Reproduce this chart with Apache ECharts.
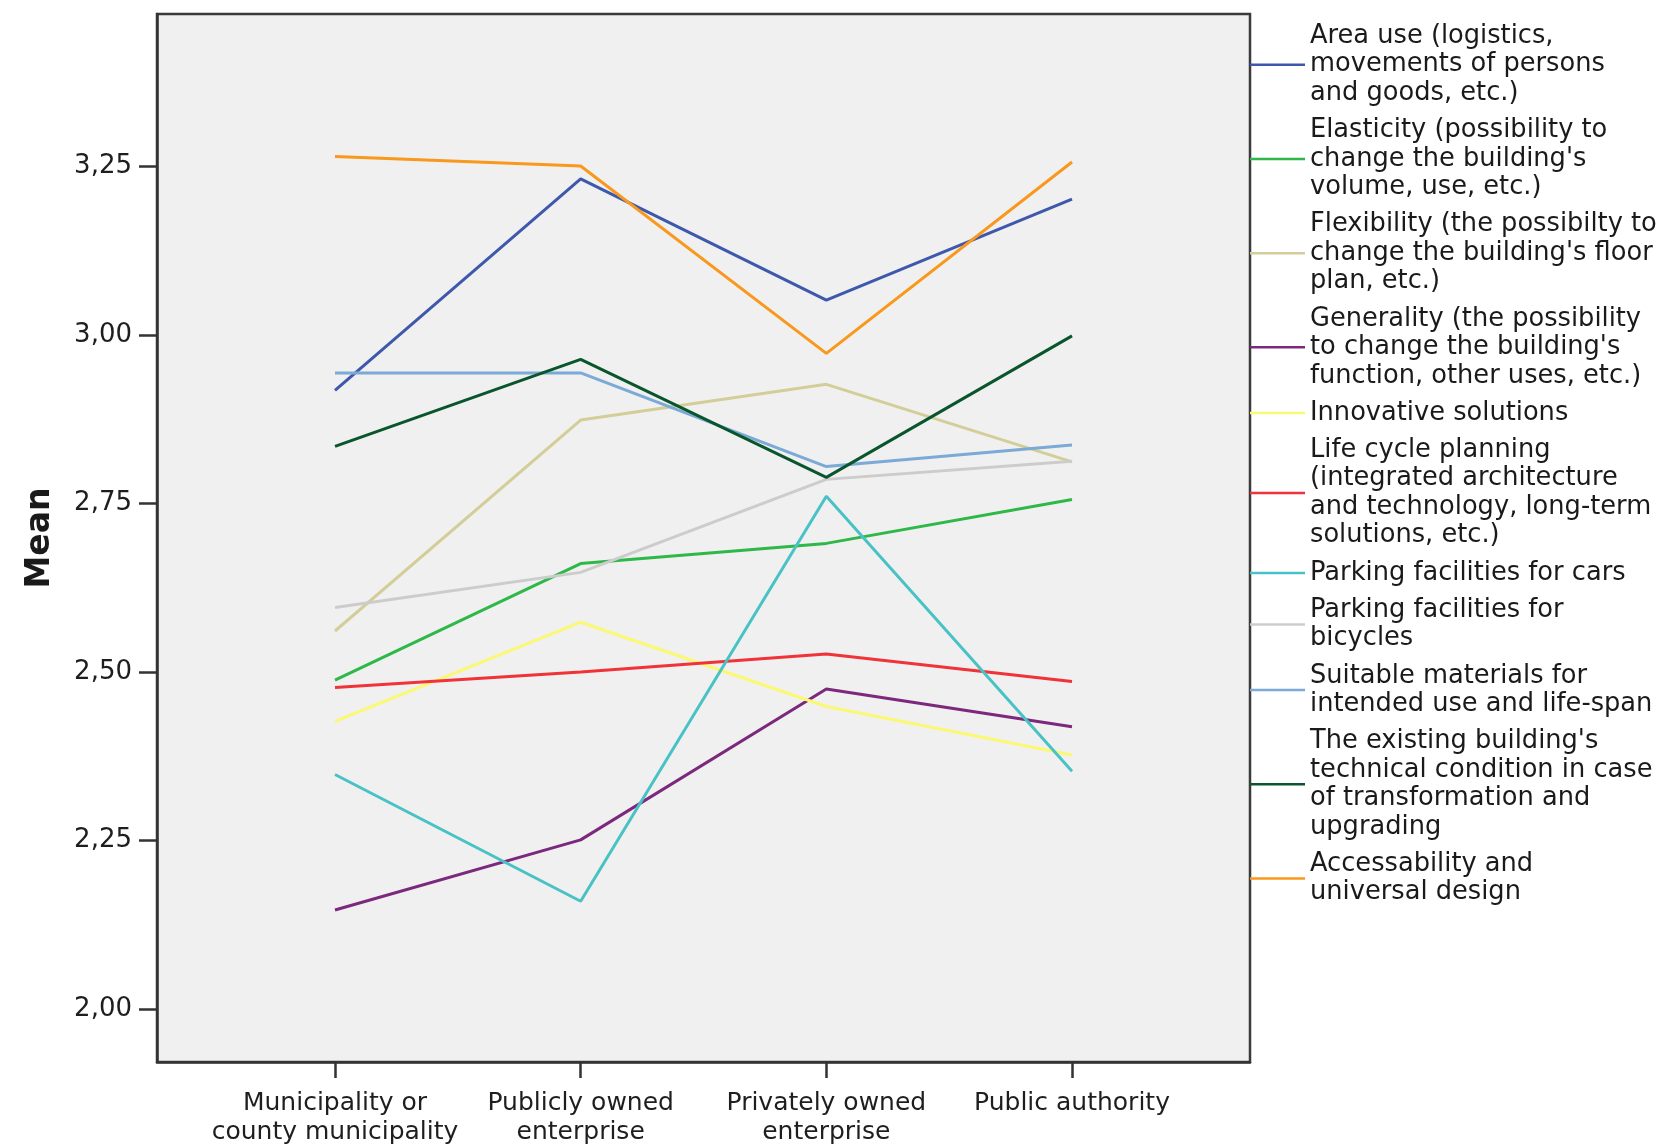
<!DOCTYPE html>
<html>
<head>
<meta charset="utf-8">
<script src="https://cdn.jsdelivr.net/npm/echarts@6/dist/echarts.min.js"></script>
<style>
  html, body { margin: 0; padding: 0; background: #ffffff; }
  #chart { width: 1663px; height: 1146px; }
</style>
</head>
<body>
<div id="chart"></div>
<script>
// ---- data ----
const categories = [
  'Municipality or\ncounty municipality',
  'Publicly owned\nenterprise',
  'Privately owned\nenterprise',
  'Public authority'
];
const yTickValues = [2.00, 2.25, 2.50, 2.75, 3.00, 3.25];
const yTickLabels = ['2,00', '2,25', '2,50', '2,75', '3,00', '3,25'];
const yAxisTitle = 'Mean';

const seriesNames = [
  'Area use (logistics,\nmovements of persons\nand goods, etc.)',
  'Elasticity (possibility to\nchange the building\'s\nvolume, use, etc.)',
  'Flexibility (the possibilty to\nchange the building\'s floor\nplan, etc.)',
  'Generality (the possibility\nto change the building\'s\nfunction, other uses, etc.)',
  'Innovative solutions',
  'Life cycle planning\n(integrated architecture\nand technology, long-term\nsolutions, etc.)',
  'Parking facilities for cars',
  'Parking facilities for\nbicycles',
  'Suitable materials for\nintended use and life-span',
  'The existing building\'s\ntechnical condition in case\nof transformation and\nupgrading',
  'Accessability and\nuniversal design'
];

const areaUse           = [2.918, 3.232, 3.052, 3.202];
const elasticity        = [2.488, 2.661, 2.691, 2.756];
const flexibility       = [2.561, 2.874, 2.927, 2.812];
const generality        = [2.147, 2.251, 2.475, 2.419];
const innovative        = [2.427, 2.574, 2.449, 2.377];
const lifeCycle         = [2.477, 2.500, 2.527, 2.486];
const parkingCars       = [2.348, 2.160, 2.761, 2.353];
const parkingBicycles   = [2.596, 2.648, 2.786, 2.813];
const suitableMaterials = [2.944, 2.944, 2.805, 2.837];
const existingBuilding  = [2.835, 2.964, 2.789, 2.999];
const accessability     = [3.265, 3.251, 2.973, 3.257];

const seriesValues = [areaUse, elasticity, flexibility, generality, innovative,
  lifeCycle, parkingCars, parkingBicycles, suitableMaterials, existingBuilding, accessability];

const seriesColors = ['#3E58AC', '#2EB848', '#D3CE97', '#7C287D', '#FBF873',
  '#EF3338', '#48C2C5', '#CCCCCC', '#7AAAD5', '#0A562C', '#F8981D'];

// ---- chart ----
const catPositions = categories.map((_, i) => i);
const FONT = 'DejaVu Sans';
const chart = echarts.init(document.getElementById('chart'), null, { renderer: 'canvas' });

const option = {
  animation: false,
  backgroundColor: '#ffffff',
  color: seriesColors,
  grid: {
    left: 157, right: 413, top: 14, bottom: 84,
    show: true,
    backgroundColor: '#F0F0F0',
    borderColor: '#3a3a3a',
    borderWidth: 2.5,
    outerBoundsMode: 'none'
  },
  legend: {
    orient: 'vertical',
    left: 1250,
    top: 22,
    padding: 0,
    itemGap: 8.7,
    itemWidth: 55,
    itemHeight: 2.5,
    icon: 'rect',
    selectedMode: false,
    textStyle: {
      fontFamily: FONT,
      fontSize: 25.7,
      lineHeight: 28.5,
      color: '#1a1a1a'
    },
    data: seriesNames
  },
  xAxis: {
    type: 'value',
    min: -0.7245,
    max: 3.7245,
    splitLine: { show: false },
    axisLine: { show: true, onZero: false, lineStyle: { color: '#333', width: 2.5 } },
    axisTick: {
      show: true, length: 16, inside: false,
      customValues: catPositions,
      lineStyle: { color: '#333', width: 2.5 }
    },
    axisLabel: {
      customValues: catPositions,
      formatter: (v) => categories[Math.round(v)],
      margin: 27,
      fontFamily: FONT,
      fontSize: 25,
      lineHeight: 29,
      color: '#1e1e1e',
      align: 'center'
    }
  },
  yAxis: {
    type: 'value',
    min: 1.9214,
    max: 3.4766,
    name: yAxisTitle,
    nameLocation: 'middle',
    nameRotate: 90,
    nameGap: 100,
    nameTextStyle: {
      fontFamily: FONT,
      fontSize: 33,
      fontWeight: 'bold',
      color: '#1a1a1a'
    },
    splitLine: { show: false },
    axisLine: { show: true, onZero: false, lineStyle: { color: '#333', width: 2.5 } },
    axisTick: {
      show: true, length: 18, inside: false,
      customValues: yTickValues,
      lineStyle: { color: '#333', width: 2.5 }
    },
    axisLabel: {
      customValues: yTickValues,
      formatter: (v) => {
        const i = yTickValues.findIndex(t => Math.abs(t - v) < 1e-6);
        return i >= 0 ? yTickLabels[i] : '';
      },
      margin: 25,
      fontFamily: FONT,
      fontSize: 26,
      color: '#1e1e1e'
    }
  },
  series: seriesNames.map((name, s) => ({
    name: name,
    type: 'line',
    symbol: 'none',
    showSymbol: false,
    smooth: false,
    lineStyle: { width: 3, color: seriesColors[s] },
    itemStyle: { color: seriesColors[s] },
    emphasis: { disabled: true },
    data: seriesValues[s].map((v, i) => [catPositions[i], v])
  }))
};

chart.setOption(option);
</script>
</body>
</html>
